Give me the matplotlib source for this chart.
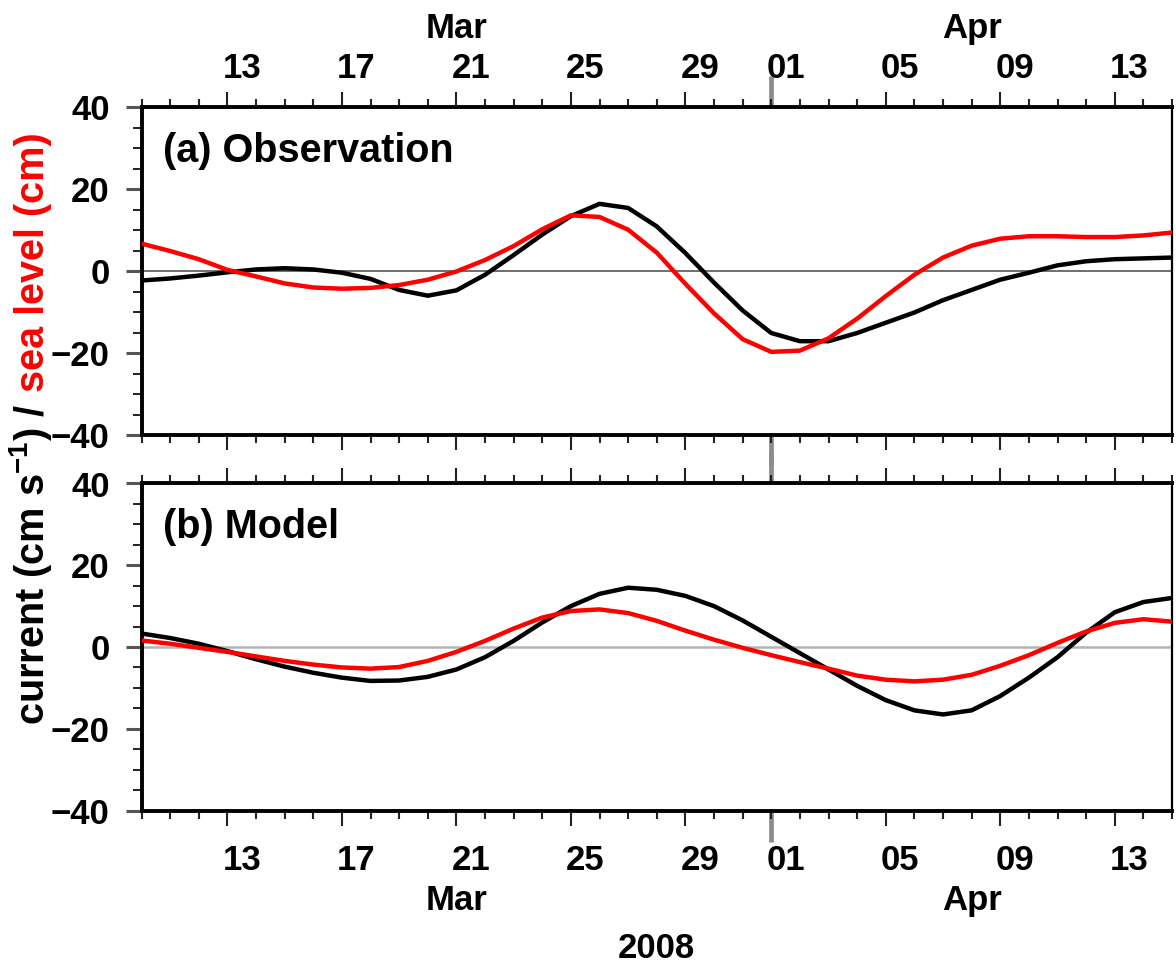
import numpy as np
import matplotlib
matplotlib.use("Agg")
import matplotlib.pyplot as plt
import matplotlib.dates as mdates
import matplotlib.transforms as mtransforms
from matplotlib.ticker import FixedLocator, MultipleLocator, NullFormatter

plt.rcParams["font.family"] = ["Liberation Sans", "DejaVu Sans"]
plt.rcParams["font.weight"] = "bold"
plt.rcParams["mathtext.fontset"] = "custom"
plt.rcParams["mathtext.rm"] = "Liberation Sans:bold"
plt.rcParams["mathtext.bf"] = "Liberation Sans:bold"
plt.rcParams["mathtext.default"] = "bf"

# ---- data: daily values, 10 Mar - 15 Apr 2008 ----
dates = np.arange(np.datetime64("2008-03-10"), np.datetime64("2008-04-16"))

obs_current = [-2.2, -1.7, -1.0, -0.2, 0.5, 0.8, 0.5, -0.3, -1.8, -4.5,
               -5.9, -4.6, -0.8, 4.0, 9.0, 13.5, 16.5, 15.5, 11.0, 4.5,
               -2.7, -9.5, -15.0, -17.0, -17.0, -15.0, -12.5, -10.0, -7.0, -4.5,
               -2.0, -0.3, 1.5, 2.5, 3.0, 3.2, 3.4]
obs_sea_level = [6.8, 5.0, 3.0, 0.4, -1.2, -2.9, -3.9, -4.2, -4.0, -3.3,
                 -2.0, 0.0, 2.8, 6.2, 10.3, 13.7, 13.3, 10.2, 4.6, -3.0,
                 -10.2, -16.5, -19.6, -19.3, -16.3, -11.5, -6.0, -0.8, 3.4, 6.3,
                 8.0, 8.6, 8.6, 8.4, 8.4, 8.8, 9.5]
model_current = [3.3, 2.2, 0.8, -1.0, -3.0, -4.8, -6.3, -7.5, -8.3, -8.2,
                 -7.3, -5.5, -2.5, 1.5, 6.0, 10.0, 13.0, 14.5, 14.0, 12.5,
                 10.0, 6.5, 2.5, -1.5, -5.5, -9.5, -13.0, -15.5, -16.5, -15.5,
                 -12.0, -7.5, -2.5, 3.5, 8.5, 11.0, 12.0]
model_sea_level = [1.6, 0.8, -0.2, -1.2, -2.3, -3.4, -4.3, -5.0, -5.3, -4.9,
                   -3.4, -1.2, 1.5, 4.5, 7.2, 8.8, 9.2, 8.3, 6.4, 4.0,
                   1.8, -0.2, -2.0, -3.7, -5.3, -7.0, -8.0, -8.4, -8.0, -6.8,
                   -4.6, -2.0, 1.0, 3.8, 5.9, 6.8, 6.2]

label_days = np.array(["2008-03-13", "2008-03-17", "2008-03-21", "2008-03-25",
                       "2008-03-29", "2008-04-01", "2008-04-05", "2008-04-09",
                       "2008-04-13"], dtype="datetime64[D]")
month_start = np.datetime64("2008-04-01")
x_start = np.datetime64("2008-03-10")
x_end = np.datetime64("2008-04-15")

# ---- figure geometry (pixels) ----
W, H = 1176, 971
fig = plt.figure(figsize=(W / 100, H / 100), dpi=100)


def px_box(l, t, r, b):
    return [l / W, 1 - b / H, (r - l) / W, (b - t) / H]


ax_a = fig.add_axes(px_box(141.5, 107.5, 1172, 435.5))
ax_b = fig.add_axes(px_box(141.5, 483.5, 1172, 810.5))

x = mdates.date2num(dates)
x0, x1 = mdates.date2num(x_start), mdates.date2num(x_end)
xm = mdates.date2num(month_start)
xlab = mdates.date2num(label_days)
xmajor = [v for v in xlab if v != xm]

FS = 25


def style(ax, zero_color, zero_lw):
    ax.set_xlim(x0, x1)
    ax.set_ylim(-40, 40)
    ax.xaxis.set_major_locator(FixedLocator(xmajor))
    ax.xaxis.set_minor_locator(FixedLocator(list(x)))
    ax.xaxis.set_major_formatter(NullFormatter())
    ax.yaxis.set_major_locator(MultipleLocator(20))
    ax.yaxis.set_minor_locator(MultipleLocator(5))
    ax.tick_params(axis="x", which="both", direction="out", top=True, bottom=True,
                   labelbottom=False, labeltop=False)
    ax.tick_params(axis="x", which="major", length=10.5, width=1.5, color="#222222")
    ax.tick_params(axis="x", which="minor", length=5.5, width=1.5, color="#222222")
    ax.tick_params(axis="y", which="major", length=11.5, width=2.2, color="#555555",
                   labelsize=FS, pad=11.5)
    ax.tick_params(axis="y", which="minor", length=6.5, width=1.4, color="#222222")
    for s in ("top", "bottom", "left"):
        ax.spines[s].set_linewidth(2.8)
    ax.spines["right"].set_linewidth(1.6)
    ax.axhline(0, color=zero_color, lw=zero_lw, zorder=2)
    # month boundary tick
    for side in ("top", "bottom"):
        sec = ax.secondary_xaxis(side)
        sec.set_xticks([xm], labels=[""])
        sec.tick_params(length=22, width=3.4, color="#8c8c8c", direction="out")
        for sp in sec.spines.values():
            sp.set_visible(False)


style(ax_a, "#6e6e6e", 1.4)
style(ax_b, "#b4b4b4", 1.8)

ax_a.plot(x, obs_current, color="black", lw=3.2, solid_joinstyle="round", zorder=3)
ax_a.plot(x, obs_sea_level, color="#ff0000", lw=3.2, solid_joinstyle="round", zorder=4)
ax_b.plot(x, model_current, color="black", lw=3.2, solid_joinstyle="round", zorder=3)
ax_b.plot(x, model_sea_level, color="#ff0000", lw=3.2, solid_joinstyle="round", zorder=4)

# ---- day and month annotations ----
tr_a = mtransforms.blended_transform_factory(ax_a.transData, fig.transFigure)
tr_b = mtransforms.blended_transform_factory(ax_b.transData, fig.transFigure)
for d, xv in zip(label_days, xlab):
    lab = d.astype(object).strftime("%d")
    ax_a.text(xv + 0.5, 1 - 78 / H, lab, transform=tr_a, ha="center", va="baseline",
              fontsize=FS, fontweight="bold")
    ax_b.text(xv + 0.5, 1 - 870 / H, lab, transform=tr_b, ha="center", va="baseline",
              fontsize=FS, fontweight="bold")

for name, xc in (("Mar", (x0 + xm) / 2), ("Apr", (xm + x1) / 2)):
    ax_a.text(xc, 1 - 38 / H, name, transform=tr_a, ha="center", va="baseline",
              fontsize=FS, fontweight="bold")
    ax_b.text(xc, 1 - 910 / H, name, transform=tr_b, ha="center", va="baseline",
              fontsize=FS, fontweight="bold")

tr_year = mtransforms.blended_transform_factory(ax_b.transAxes, fig.transFigure)
ax_b.text(0.5, 1 - 958 / H, "2008", transform=tr_year, ha="center", va="baseline",
          fontsize=FS, fontweight="bold")

# ---- panel titles ----
fig.text(163 / W, 1 - 162 / H, "(a) Observation", fontsize=28.5, fontweight="bold",
         ha="left", va="baseline")
fig.text(163 / W, 1 - 538 / H, "(b) Model", fontsize=28.5, fontweight="bold",
         ha="left", va="baseline")

# ---- two-colour y label ----
fig.text(44 / W, 1 - 404 / H, "current (cm s$^{-1}$) /", rotation=90,
         rotation_mode="anchor", ha="right", va="baseline", fontsize=28.5,
         fontweight="bold", color="black")
fig.text(44 / W, 1 - 392 / H, "sea level (cm)", rotation=90,
         rotation_mode="anchor", ha="left", va="baseline", fontsize=28.5,
         fontweight="bold", color="#ff0000")

fig.savefig("out.png", dpi=100)
